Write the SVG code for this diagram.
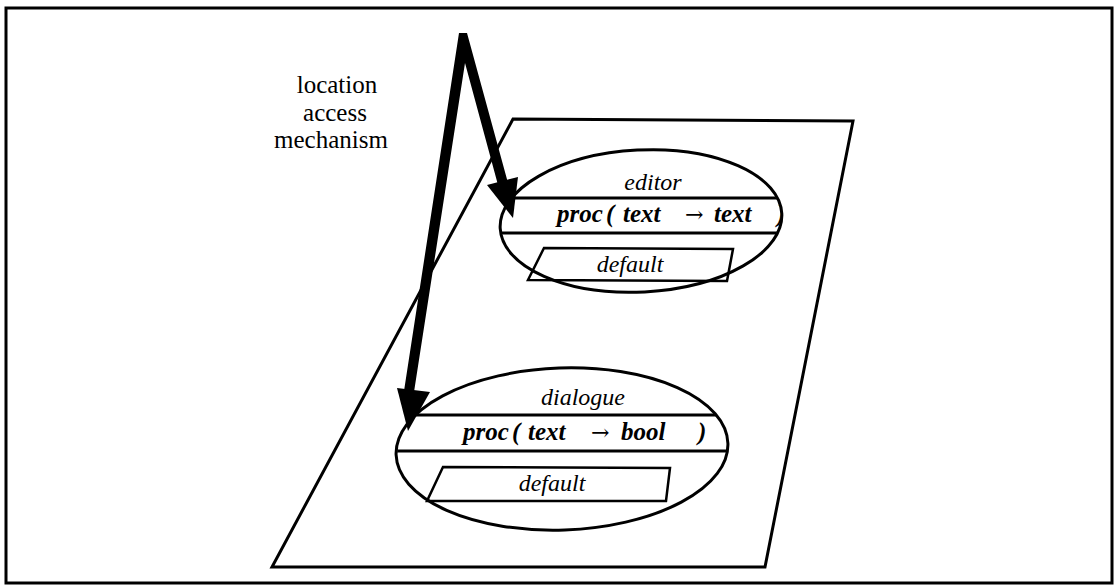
<svg xmlns="http://www.w3.org/2000/svg" width="1117" height="586" viewBox="0 0 1117 586">
<defs>
<style>
.ln{fill:none;stroke:#000;stroke-width:3}
.thin{fill:none;stroke:#000;stroke-width:2.5}
.lbl{font-size:25px;fill:#000;text-anchor:middle}
.it{font-style:italic;font-size:24px;fill:#000}
.bi{font-style:italic;font-weight:bold;font-size:25px;fill:#000}
.ar{font-style:normal;font-weight:normal;font-size:22px}
</style>
<clipPath id="ce"><ellipse cx="641" cy="221" rx="140" ry="70" transform="rotate(-3 641 221)"/></clipPath>
<clipPath id="cd"><ellipse cx="562" cy="449" rx="165" ry="80" transform="rotate(-2 562 449)"/></clipPath>
</defs>
<rect width="1117" height="586" fill="#fff"/>
<rect x="6" y="8" width="1106" height="575" class="ln" stroke-width="3.5"/>
<g id="plane">
<polygon points="513,119 853,121 765,567 272,567" class="ln"/>
</g>
<g id="label" font-family="Liberation Serif, DejaVu Serif, serif">
<text class="lbl" x="337" y="93">location</text>
<text class="lbl" x="335" y="121">access</text>
<text class="lbl" x="331" y="148">mechanism</text>
</g>
<g id="editor" font-family="Liberation Serif, DejaVu Serif, serif">
<ellipse cx="641" cy="221" rx="141" ry="71" transform="rotate(-3 641 221)" fill="#fff" class="ln"/>
<g clip-path="url(#ce)">
<line x1="490" y1="198" x2="790" y2="198" class="ln"/>
<line x1="490" y1="233" x2="790" y2="233" class="ln"/>
<text class="bi" y="222"><tspan x="557">proc</tspan><tspan x="606">(</tspan><tspan x="623">text</tspan><tspan x="685" class="ar" font-family="DejaVu Serif, serif">→</tspan><tspan x="714">text</tspan><tspan x="777">)</tspan></text>
</g>
<text class="it" x="653" y="190" text-anchor="middle">editor</text>
<polygon points="544,248 733,249 727,281 528,280" class="thin"/>
<text class="it" x="630" y="272" text-anchor="middle">default</text>
</g>
<g id="dialogue" font-family="Liberation Serif, DejaVu Serif, serif">
<ellipse cx="562" cy="449" rx="166" ry="81" transform="rotate(-2 562 449)" fill="#fff" class="ln"/>
<g clip-path="url(#cd)">
<line x1="390" y1="415" x2="740" y2="415" class="ln"/>
<line x1="390" y1="451" x2="740" y2="451" class="ln"/>
</g>
<text class="it" x="583" y="405" text-anchor="middle">dialogue</text>
<text class="bi" y="440"><tspan x="463">proc</tspan><tspan x="512">(</tspan><tspan x="528">text</tspan><tspan x="591" class="ar" font-family="DejaVu Serif, serif">→</tspan><tspan x="621">bool</tspan><tspan x="698">)</tspan></text>
<polygon points="443,467 670,468 666,501 427,501" class="thin"/>
<text class="it" x="552" y="491" text-anchor="middle">default</text>
</g>
<g id="connectors">
<polygon points="459,33 467,33 508,183 498,185 465,63 414,392 404,391" fill="#000"/>
<polygon points="487,185 518,177 513,218" fill="#000"/>
<polygon points="397,388 430,392 408,431" fill="#000"/>
</g>
</svg>
